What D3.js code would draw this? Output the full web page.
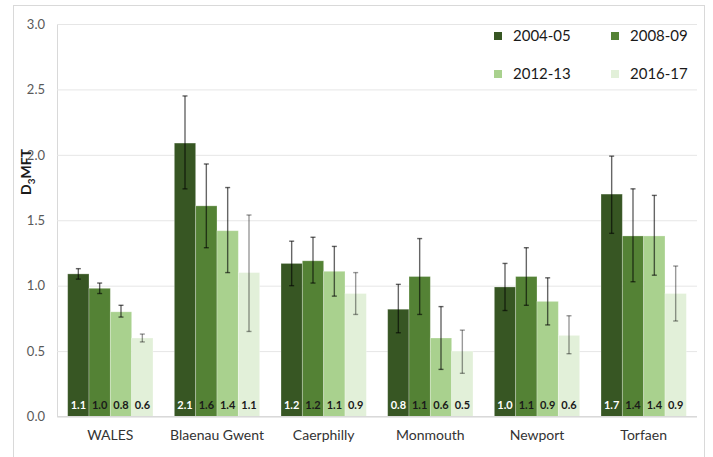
<!DOCTYPE html>
<html>
<head>
<meta charset="utf-8">
<script src="https://cdn.jsdelivr.net/npm/d3@7"></script>
<style>
  html, body { margin: 0; padding: 0; background: #fff; }
  svg { display: block; font-family: Lato, "Open Sans", sans-serif; }
</style>
</head>
<body>
<svg id="chart" width="713" height="457"></svg>
<script>
// Mean D3MFT by area and survey year, with 95% confidence limits
const areas = ["WALES", "Blaenau Gwent", "Caerphilly", "Monmouth", "Newport", "Torfaen"];
const years = ["2004-05", "2008-09", "2012-13", "2016-17"];
const colors = ["#375623", "#548235", "#a9d18e", "#e2f0d9"];
const labelColors = ["#ffffff", "#1a1a1a", "#1a1a1a", "#1a1a1a"];

// one row per area, one value per survey year
const means = [
  [1.09, 0.98, 0.80, 0.60],
  [2.09, 1.61, 1.42, 1.10],
  [1.17, 1.19, 1.11, 0.94],
  [0.82, 1.07, 0.60, 0.50],
  [0.99, 1.07, 0.88, 0.62],
  [1.70, 1.38, 1.38, 0.94]
];
const lower = [
  [1.05, 0.94, 0.76, 0.57],
  [1.74, 1.29, 1.10, 0.65],
  [1.00, 1.02, 0.92, 0.78],
  [0.64, 0.78, 0.36, 0.33],
  [0.81, 0.85, 0.70, 0.48],
  [1.40, 1.03, 1.08, 0.73]
];
const upper = [
  [1.13, 1.02, 0.85, 0.63],
  [2.45, 1.93, 1.75, 1.54],
  [1.34, 1.37, 1.30, 1.10],
  [1.01, 1.36, 0.84, 0.66],
  [1.17, 1.29, 1.06, 0.77],
  [1.99, 1.74, 1.69, 1.15]
];
const yTicks = [0, 0.5, 1.0, 1.5, 2.0, 2.5, 3.0];

const svg = d3.select("#chart");
const plot = { left: 57, right: 697, top: 24, bottom: 416.5 };

// outer frame
svg.append("rect")
  .attr("x", 13.5).attr("y", 5.5)
  .attr("width", 691).attr("height", 460)
  .attr("fill", "#fff").attr("stroke", "#d9d9d9").attr("stroke-width", 1);

const x0 = d3.scaleBand().domain(areas)
  .range([plot.left, plot.right]).paddingInner(0.2).paddingOuter(0.1);
const x1 = d3.scaleBand().domain(years).range([0, x0.bandwidth()]).padding(0);
const y = d3.scaleLinear().domain([0, 3]).range([plot.bottom, plot.top]);
const fmt = d3.format(".1f");

// horizontal gridlines and tick labels
const yAxis = d3.axisLeft(y).tickValues(yTicks).tickFormat(fmt)
  .tickSize(-(plot.right - plot.left)).tickPadding(12);
const gy = svg.append("g").attr("transform", `translate(${plot.left},0)`).call(yAxis);
gy.select(".domain").attr("stroke", "#d9d9d9");
gy.selectAll(".tick line").attr("stroke", "#e6e6e6");
gy.selectAll(".tick text").attr("fill", "#595959")
  .style("font-size", "13px").style("font-family", "Lato, sans-serif");

// bars
const groups = svg.append("g").selectAll("g").data(areas).join("g")
  .attr("transform", d => `translate(${x0(d)},0)`);

groups.each(function(area, i) {
  const g = d3.select(this);
  years.forEach((yr, j) => {
    const v = means[i][j];
    g.append("rect")
      .attr("x", x1(yr)).attr("y", y(v))
      .attr("width", x1.bandwidth()).attr("height", y(0) - y(v))
      .attr("fill", colors[j])
      .attr("stroke", "#ffffff").attr("stroke-opacity", 0.35).attr("stroke-width", 0.8);
  });
});

// error bars
groups.each(function(area, i) {
  const g = d3.select(this);
  years.forEach((yr, j) => {
    const cx = x1(yr) + x1.bandwidth() / 2;
    const lo = y(lower[i][j]), hi = y(upper[i][j]);
    const op = j === 3 ? 0.4 : 0.6;
    const eb = g.append("g").attr("stroke", "#000").attr("stroke-opacity", op)
      .attr("stroke-width", 1.4);
    eb.append("line").attr("x1", cx).attr("x2", cx).attr("y1", lo).attr("y2", hi);
    eb.append("line").attr("x1", cx - 2.5).attr("x2", cx + 2.5).attr("y1", lo).attr("y2", lo);
    eb.append("line").attr("x1", cx - 2.5).attr("x2", cx + 2.5).attr("y1", hi).attr("y2", hi);
  });
});

// value labels at the foot of each bar
groups.each(function(area, i) {
  const g = d3.select(this);
  years.forEach((yr, j) => {
    g.append("text")
      .attr("x", x1(yr) + x1.bandwidth() / 2).attr("y", y(0) - 8)
      .attr("text-anchor", "middle")
      .attr("fill", labelColors[j])
      .style("font-size", "11px").style("font-weight", "bold")
      .text(fmt(means[i][j]));
  });
});

// bottom axis line and category labels
svg.append("line")
  .attr("x1", plot.left).attr("x2", plot.right)
  .attr("y1", plot.bottom).attr("y2", plot.bottom)
  .attr("stroke", "#d9d9d9");
const gx = svg.append("g").attr("transform", `translate(0,${plot.bottom})`)
  .call(d3.axisBottom(x0).tickSize(0).tickPadding(14));
gx.select(".domain").remove();
gx.selectAll(".tick text").attr("fill", "#333")
  .style("font-size", "14px").style("font-family", "Lato, sans-serif");

// y-axis title with subscript
const yt = svg.append("text")
  .attr("transform", "translate(31,172) rotate(-90)")
  .attr("text-anchor", "middle")
  .attr("fill", "#1a1a1a")
  .style("font-size", "14px").style("font-weight", "bold");
yt.append("tspan").text("D");
yt.append("tspan").attr("dy", 4).style("font-size", "10px").text("3");
yt.append("tspan").attr("dy", -4).text("MFT");

// legend: two columns, two rows
const legend = svg.append("g");
const legendPos = [[498, 36], [615, 36], [498, 74], [615, 74]];
years.forEach((yr, j) => {
  const [lx, ly] = legendPos[j];
  legend.append("rect").attr("x", lx - 4).attr("y", ly - 4)
    .attr("width", 8).attr("height", 8).attr("fill", colors[j]);
  legend.append("text").attr("x", lx + 15).attr("y", ly).attr("dy", "0.35em")
    .attr("fill", "#1a1a1a").style("font-size", "15px").text(yr);
});
</script>
</body>
</html>
